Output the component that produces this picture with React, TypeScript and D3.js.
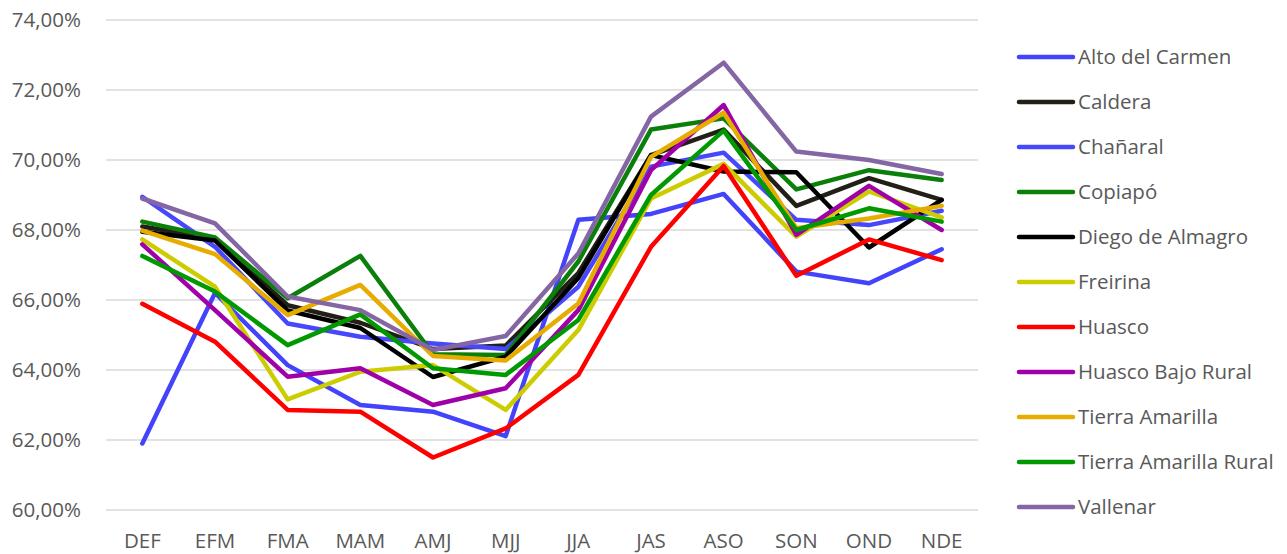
import React from "react";
import * as d3 from "d3";

const categories = ["DEF", "EFM", "FMA", "MAM", "AMJ", "MJJ", "JJA", "JAS", "ASO", "SON", "OND", "NDE"];
const yTicks = [60, 62, 64, 66, 68, 70, 72, 74];

const altoDelCarmen = [61.9, 66.2, 64.14, 63.0, 62.81, 62.11, 68.29, 68.46, 69.03, 66.81, 66.48, 67.45];
const caldera = [68.1, 67.75, 65.85, 65.35, 64.6, 64.7, 66.77, 70.14, 70.87, 68.69, 69.48, 68.86];
const chanaral = [68.95, 67.52, 65.33, 64.95, 64.76, 64.6, 66.38, 69.81, 70.21, 68.29, 68.14, 68.55];
const copiapo = [68.24, 67.79, 66.05, 67.26, 64.45, 64.43, 67.1, 70.87, 71.19, 69.16, 69.71, 69.43];
const diegoDeAlmagro = [67.95, 67.7, 65.7, 65.2, 63.8, 64.38, 66.63, 70.14, 69.67, 69.65, 67.5, 68.86];
const freirina = [67.73, 66.38, 63.16, 63.95, 64.14, 62.86, 65.14, 68.9, 69.89, 67.81, 69.1, 68.36];
const huasco = [65.89, 64.81, 62.86, 62.81, 61.5, 62.33, 63.86, 67.52, 69.83, 66.69, 67.73, 67.14];
const huascoBajoRural = [67.59, 65.71, 63.81, 64.05, 63.0, 63.48, 65.71, 69.71, 71.57, 67.86, 69.26, 68.0];
const tierraAmarilla = [67.98, 67.31, 65.57, 66.43, 64.4, 64.27, 65.9, 70.09, 71.35, 68.05, 68.33, 68.69];
const tierraAmarillaRural = [67.26, 66.24, 64.71, 65.59, 64.05, 63.86, 65.43, 69.0, 70.84, 68.0, 68.62, 68.24];
const vallenar = [68.9, 68.19, 66.1, 65.71, 64.57, 64.97, 67.33, 71.24, 72.78, 70.24, 70.0, 69.6];

const seriesNames = [
  "Alto del Carmen", "Caldera", "Chañaral", "Copiapó", "Diego de Almagro", "Freirina",
  "Huasco", "Huasco Bajo Rural", "Tierra Amarilla", "Tierra Amarilla Rural", "Vallenar",
];
const seriesValues = [
  altoDelCarmen, caldera, chanaral, copiapo, diegoDeAlmagro, freirina,
  huasco, huascoBajoRural, tierraAmarilla, tierraAmarillaRural, vallenar,
];
const seriesColors = [
  "#4343fb", "#221f16", "#4747fb", "#0a7f0a", "#000000", "#cccc00",
  "#ff0000", "#a000a8", "#e6ac00", "#009900", "#8466a4",
];

const FONT = "'Open Sans', 'Noto Sans', sans-serif";
const TEXT = "#595959";
const FS = 20.5;

export default function App() {
  const width = 1287;
  const height = 554;
  const left = 106, right = 978, top = 20, bottom = 510;

  const x = d3.scaleBand<string>().domain(categories).range([left, right]);
  const y = d3.scaleLinear().domain([60, 74]).range([bottom, top]);
  const line = d3.line<number>()
    .x((_, i) => (x(categories[i]) as number) + x.bandwidth() / 2)
    .y((v) => y(v));

  return (
    <svg width={width} height={height} style={{ position: "absolute", left: 0, top: 0 }}>
      <rect width={width} height={height} fill="#ffffff" />
      {yTicks.map((t) => (
        <g key={t}>
          <line x1={left} x2={right} y1={y(t)} y2={y(t)} stroke="#d9d9d9" strokeWidth={1.5} />
          <text x={81} y={y(t)} dy="0.35em" textAnchor="end" fontFamily={FONT} fontSize={FS} fill={TEXT}>
            {t.toFixed(2).replace(".", ",")}%
          </text>
        </g>
      ))}
      {categories.map((c) => (
        <text key={c} x={(x(c) as number) + x.bandwidth() / 2} y={548} textAnchor="middle"
          fontFamily={FONT} fontSize={FS} fill={TEXT}>{c}</text>
      ))}
      {seriesValues.map((vals, i) => (
        <path key={seriesNames[i]} d={line(vals) || ""} fill="none" stroke={seriesColors[i]}
          strokeWidth={4.5} strokeLinejoin="round" strokeLinecap="round" />
      ))}
      {seriesNames.map((n, i) => {
        const ly = 57 + i * 45;
        return (
          <g key={n}>
            <line x1={1019} x2={1073} y1={ly} y2={ly} stroke={seriesColors[i]} strokeWidth={4.5} strokeLinecap="round" />
            <text x={1078} y={ly} dy="0.35em" fontFamily={FONT} fontSize={FS} fill={TEXT}>{n}</text>
          </g>
        );
      })}
    </svg>
  );
}
